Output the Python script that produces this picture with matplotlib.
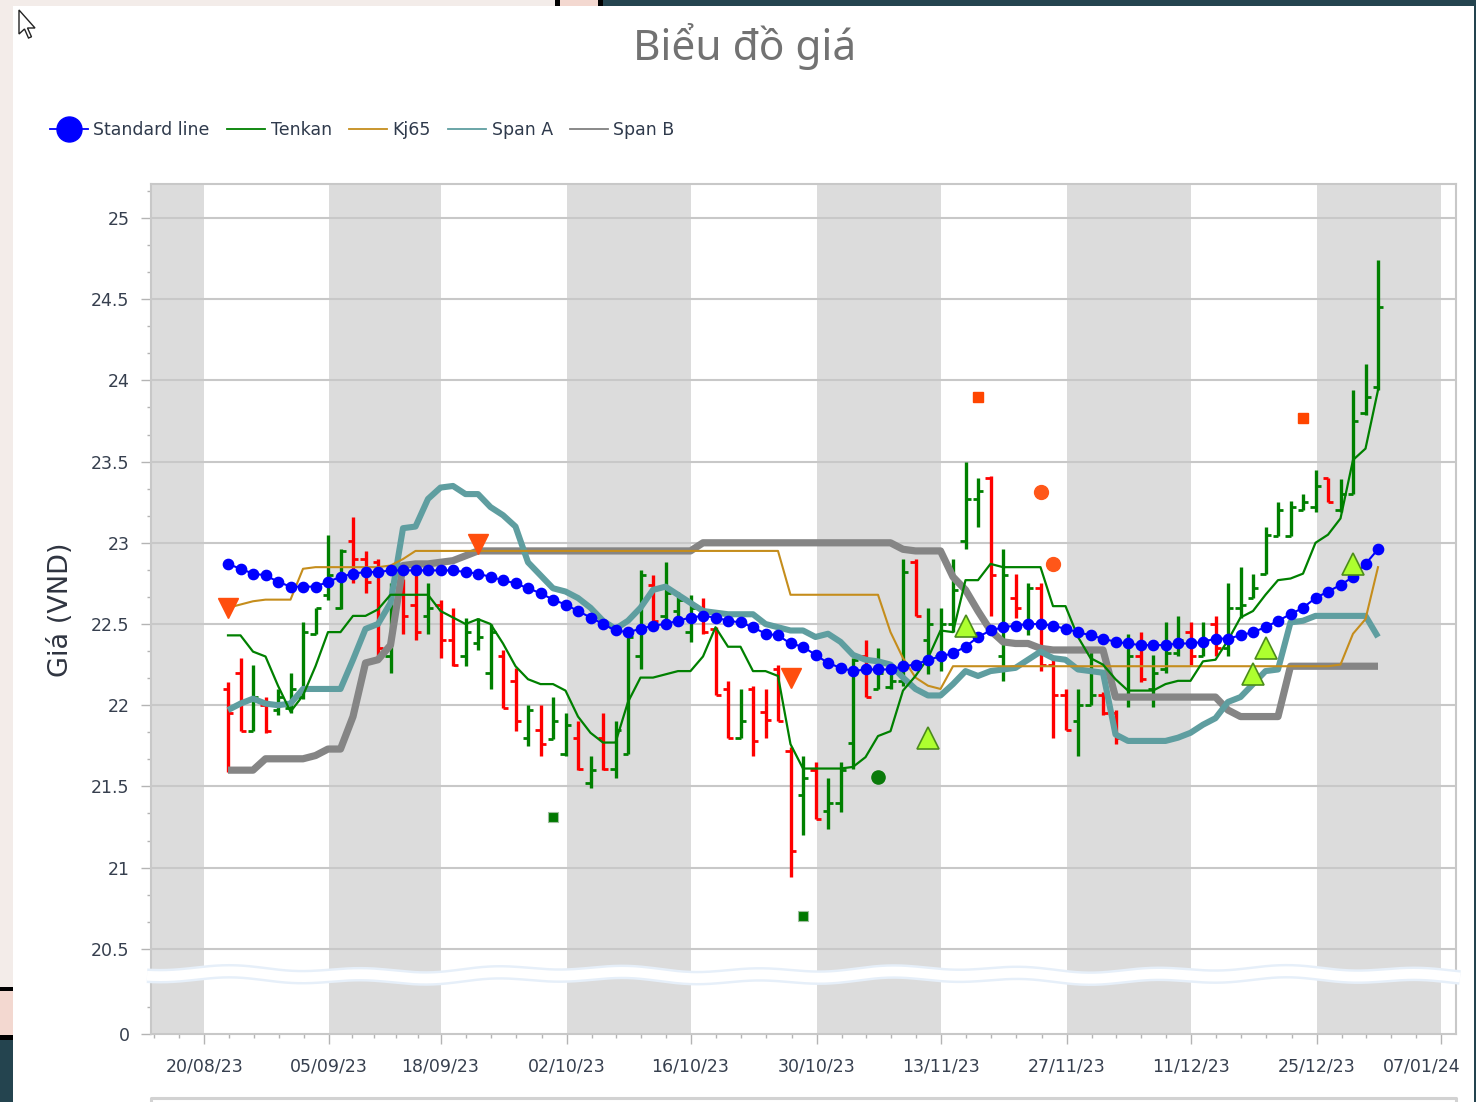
import numpy as np
import matplotlib
matplotlib.use("Agg")
import matplotlib.pyplot as plt
from matplotlib.lines import Line2D
from matplotlib.patches import Rectangle, Polygon
from matplotlib.ticker import FixedLocator, MultipleLocator, FuncFormatter
from matplotlib.transforms import ScaledTranslation

plt.rcParams['font.family'] = ['DejaVu Sans']

# ---- data (x = trading session index) ----
opens = [22.10, 22.20, 21.84, 22.00, 21.97, 21.98, 22.05, 22.44, 22.68, 22.60,
         23.01, 22.90, 22.88, 22.30, 22.70, 22.62, 22.55, 22.62, 22.40, 22.30,
         22.38, 22.20, 22.30, 22.15, 21.80, 21.85, 21.79, 21.70, 21.80, 21.52,
         21.80, 21.61, 21.70, 22.30, 22.74, 22.55, 22.58, 22.45, 22.60, 22.47,
         22.10, 21.80, 22.10, 21.96, 22.22, 21.72, 21.45, 21.60, 21.35, 21.40,
         21.77, 22.30, 22.10, 22.11, 22.15, 22.88, 22.40, 22.30, 22.50, 23.01,
         23.27, 23.40, 22.30, 22.66, 22.50, 22.72, 22.25, 22.06, 21.90, 22.00,
         22.06, 21.95, 22.06, 22.30, 22.10, 22.22, 22.32, 22.45, 22.30, 22.50,
         22.35, 22.60, 22.66, 22.81, 23.04, 23.04, 23.20, 23.22, 23.40, 23.20,
         23.30, 23.80, 23.96]
highs = [22.14, 22.29, 22.25, 22.05, 22.10, 22.20, 22.51, 22.60, 23.05, 22.96,
         23.16, 22.95, 22.90, 22.75, 22.78, 22.83, 22.75, 22.65, 22.60, 22.54,
         22.54, 22.50, 22.34, 22.23, 22.00, 22.00, 22.05, 21.95, 21.90, 21.69,
         21.95, 21.90, 22.44, 22.83, 22.80, 22.88, 22.70, 22.68, 22.66, 22.48,
         22.15, 22.10, 22.12, 22.10, 22.25, 21.74, 21.69, 21.65, 21.55, 21.65,
         22.29, 22.40, 22.35, 22.20, 22.90, 22.90, 22.60, 22.60, 22.90, 23.50,
         23.40, 23.41, 22.96, 22.81, 22.75, 22.75, 22.29, 22.10, 22.10, 22.33,
         22.08, 21.97, 22.44, 22.45, 22.31, 22.51, 22.55, 22.51, 22.51, 22.55,
         22.75, 22.85, 22.81, 23.10, 23.25, 23.26, 23.30, 23.45, 23.40, 23.39,
         23.94, 24.10, 24.74]
lows = [21.59, 21.84, 21.84, 21.83, 21.94, 21.95, 22.04, 22.44, 22.65, 22.59,
        22.75, 22.69, 22.30, 22.20, 22.44, 22.40, 22.44, 22.29, 22.24, 22.24,
        22.34, 22.10, 21.98, 21.84, 21.75, 21.69, 21.79, 21.69, 21.60, 21.49,
        21.60, 21.55, 21.70, 22.22, 22.50, 22.50, 22.50, 22.39, 22.44, 22.06,
        21.80, 21.80, 21.69, 21.80, 21.90, 20.94, 21.20, 21.30, 21.24, 21.34,
        21.61, 22.05, 22.10, 22.10, 22.12, 22.55, 22.19, 22.21, 22.45, 22.96,
        23.10, 22.55, 22.15, 22.54, 22.43, 22.21, 21.80, 21.85, 21.69, 22.00,
        21.94, 21.76, 21.99, 22.14, 21.99, 22.20, 22.30, 22.25, 22.30, 22.30,
        22.30, 22.54, 22.66, 22.81, 23.04, 23.04, 23.20, 23.19, 23.25, 23.19,
        23.30, 23.79, 23.94]
closes = [21.95, 21.84, 22.05, 21.84, 22.05, 22.10, 22.45, 22.60, 22.80, 22.95,
          22.90, 22.76, 22.35, 22.60, 22.55, 22.45, 22.60, 22.40, 22.25, 22.45,
          22.42, 22.45, 21.98, 21.90, 21.97, 21.76, 21.90, 21.88, 21.61, 21.60,
          21.61, 21.85, 22.42, 22.80, 22.52, 22.69, 22.65, 22.60, 22.45, 22.06,
          21.80, 21.90, 21.78, 21.91, 21.90, 21.10, 21.55, 21.30, 21.40, 21.60,
          22.28, 22.05, 22.20, 22.15, 22.82, 22.55, 22.50, 22.50, 22.71, 23.27,
          23.32, 22.80, 22.80, 22.60, 22.72, 22.25, 22.06, 21.85, 22.00, 22.06,
          21.95, 21.80, 22.30, 22.16, 22.20, 22.32, 22.40, 22.30, 22.40, 22.35,
          22.60, 22.62, 22.72, 23.05, 23.20, 23.22, 23.25, 23.35, 23.25, 23.30,
          23.75, 23.90, 24.45]

standard = [22.87, 22.84, 22.81, 22.80, 22.76, 22.73, 22.73, 22.73, 22.76, 22.79,
            22.81, 22.82, 22.82, 22.83, 22.83, 22.83, 22.83, 22.83, 22.83, 22.82,
            22.81, 22.79, 22.77, 22.75, 22.72, 22.69, 22.65, 22.62, 22.58, 22.54,
            22.50, 22.46, 22.45, 22.47, 22.49, 22.50, 22.52, 22.54, 22.55, 22.54,
            22.52, 22.51, 22.48, 22.44, 22.43, 22.38, 22.36, 22.31, 22.26, 22.23,
            22.21, 22.22, 22.22, 22.22, 22.24, 22.25, 22.28, 22.30, 22.32, 22.36,
            22.42, 22.46, 22.48, 22.49, 22.50, 22.50, 22.49, 22.47, 22.45, 22.43,
            22.41, 22.39, 22.38, 22.37, 22.37, 22.37, 22.38, 22.38, 22.39, 22.41,
            22.41, 22.43, 22.45, 22.48, 22.52, 22.56, 22.60, 22.66, 22.70, 22.74,
            22.79, 22.87, 22.96]
tenkan = [22.43, 22.43, 22.33, 22.30, 22.12, 21.96, 22.06, 22.24, 22.45, 22.45,
          22.55, 22.55, 22.59, 22.68, 22.68, 22.68, 22.68, 22.58, 22.54, 22.50,
          22.53, 22.50, 22.38, 22.24, 22.16, 22.13, 22.13, 22.09, 21.93, 21.83,
          21.77, 21.77, 22.02, 22.17, 22.17, 22.19, 22.21, 22.21, 22.30, 22.48,
          22.36, 22.36, 22.21, 22.21, 22.18, 21.76, 21.61, 21.61, 21.61, 21.61,
          21.62, 21.68, 21.81, 21.84, 22.09, 22.18, 22.29, 22.46, 22.45, 22.77,
          22.77, 22.87, 22.85, 22.85, 22.85, 22.85, 22.61, 22.61, 22.42, 22.29,
          22.25, 22.16, 22.09, 22.09, 22.09, 22.13, 22.15, 22.15, 22.27, 22.28,
          22.40, 22.54, 22.58, 22.68, 22.77, 22.78, 22.81, 23.00, 23.05, 23.15,
          23.51, 23.58, 23.94]
kj65 = [22.60, 22.62, 22.64, 22.65, 22.65, 22.65, 22.84, 22.85, 22.85, 22.85,
        22.85, 22.85, 22.85, 22.86, 22.90, 22.95, 22.95, 22.95, 22.95, 22.95,
        22.95, 22.95, 22.95, 22.95, 22.95, 22.95, 22.95, 22.95, 22.95, 22.95,
        22.95, 22.95, 22.95, 22.95, 22.95, 22.95, 22.95, 22.95, 22.95, 22.95,
        22.95, 22.95, 22.95, 22.95, 22.95, 22.68, 22.68, 22.68, 22.68, 22.68,
        22.68, 22.68, 22.68, 22.45, 22.29, 22.17, 22.12, 22.10, 22.24, 22.24,
        22.24, 22.24, 22.24, 22.24, 22.24, 22.24, 22.24, 22.24, 22.24, 22.24,
        22.24, 22.24, 22.24, 22.24, 22.24, 22.24, 22.24, 22.24, 22.24, 22.24,
        22.24, 22.24, 22.24, 22.24, 22.24, 22.24, 22.24, 22.24, 22.24, 22.25,
        22.44, 22.53, 22.85]
span_a = [21.97, 22.01, 22.04, 22.01, 22.00, 22.01, 22.10, 22.10, 22.10, 22.10,
          22.28, 22.47, 22.50, 22.63, 23.09, 23.10, 23.27, 23.34, 23.35, 23.30,
          23.30, 23.22, 23.17, 23.10, 22.88, 22.80, 22.72, 22.70, 22.66, 22.60,
          22.52, 22.47, 22.52, 22.60, 22.71, 22.73, 22.68, 22.63, 22.58, 22.57,
          22.56, 22.56, 22.56, 22.50, 22.48, 22.46, 22.46, 22.42, 22.44, 22.39,
          22.31, 22.28, 22.27, 22.25, 22.17, 22.10, 22.06, 22.06, 22.13, 22.21,
          22.18, 22.21, 22.22, 22.23, 22.28, 22.33, 22.29, 22.28, 22.22, 22.21,
          22.20, 21.82, 21.78, 21.78, 21.78, 21.78, 21.80, 21.83, 21.88, 21.92,
          22.02, 22.05, 22.13, 22.21, 22.22, 22.51, 22.52, 22.55, 22.55, 22.55,
          22.55, 22.55, 22.42]
span_b = [21.60, 21.60, 21.60, 21.67, 21.67, 21.67, 21.67, 21.69, 21.73, 21.73,
          21.93, 22.26, 22.28, 22.37, 22.86, 22.87, 22.87, 22.88, 22.89, 22.92,
          22.95, 22.95, 22.95, 22.95, 22.95, 22.95, 22.95, 22.95, 22.95, 22.95,
          22.95, 22.95, 22.95, 22.95, 22.95, 22.95, 22.95, 22.95, 23.00, 23.00,
          23.00, 23.00, 23.00, 23.00, 23.00, 23.00, 23.00, 23.00, 23.00, 23.00,
          23.00, 23.00, 23.00, 23.00, 22.96, 22.95, 22.95, 22.95, 22.79, 22.71,
          22.58, 22.46, 22.39, 22.38, 22.38, 22.35, 22.34, 22.34, 22.34, 22.34,
          22.34, 22.05, 22.05, 22.05, 22.05, 22.05, 22.05, 22.05, 22.05, 22.05,
          21.97, 21.93, 21.93, 21.93, 21.93, 22.24, 22.24, 22.24, 22.24, 22.24,
          22.24, 22.24, 22.24]

# signal markers (session index, price)
sell_tri_x = [0, 20, 45]
sell_tri_y = [22.60, 22.99, 22.17]
buy_tri_x = [56, 59, 82, 83, 90]
buy_tri_y = [21.80, 22.49, 22.19, 22.35, 22.87]
orange_dot_x = [65, 66]
orange_dot_y = [23.31, 22.87]
green_dot_x = [52]
green_dot_y = [21.56]
orange_sq_x = [60, 86]
orange_sq_y = [23.90, 23.77]
green_sq_x = [26, 46]
green_sq_y = [21.31, 20.70]

tick_pos = [-1.9, 8.1, 17.0, 27.1, 37.0, 47.1, 57.0, 67.1, 77.0, 87.1, 97.0]
tick_labels = ['20/08/23', '05/09/23', '18/09/23', '02/10/23', '16/10/23',
               '30/10/23', '13/11/23', '27/11/23', '11/12/23', '25/12/23',
               '07/01/24']

# ---- layout (pixels) ----
W, H = 1476, 1102
L, R, T, B = 151, 1456, 184, 1034
BRK = 975
XMIN, XMAX = -6.16, 98.24
PX = 162.4  # pixels per price unit

fig = plt.figure(figsize=(W / 100, H / 100), dpi=100)
fig.patch.set_facecolor('white')
ax = fig.add_axes([L / W, 1 - BRK / H, (R - L) / W, (BRK - T) / H])
ax0 = fig.add_axes([L / W, 1 - B / H, (R - L) / W, (B - BRK) / H])

ax.set_ylim(25 - (BRK - 218) / PX, 25 + (218 - T) / PX)
ax0.set_ylim(0, (B - BRK) / PX)

edges = [XMIN] + tick_pos + [XMAX]
grid_c = '#c8c8c8'
text_c = '#363f4e'
for a in (ax, ax0):
    a.set_xlim(XMIN, XMAX)
    for i in range(len(edges) - 1):
        if i % 2 == 0:
            a.axvspan(edges[i], edges[i + 1], color='#dcdcdc', lw=0, zorder=0)
    for s in a.spines.values():
        s.set_color(grid_c)
        s.set_linewidth(1.5)
    a.yaxis.set_minor_locator(MultipleLocator(0.5 / 3))
    a.tick_params(axis='y', which='major', length=7, width=1, color='#b4b4b4',
                  pad=8.5, labelsize=12.5, labelcolor=text_c)
    a.tick_params(axis='y', which='minor', length=3, width=1, color='#b4b4b4')

ax.spines['bottom'].set_visible(False)
ax0.spines['top'].set_visible(False)
ax.yaxis.set_major_locator(MultipleLocator(0.5))
ax.yaxis.set_major_formatter(FuncFormatter(lambda v, p: f'{v:g}'))
ax.grid(axis='y', color=grid_c, lw=1.5)
ax.set_axisbelow(True)
ax.tick_params(axis='x', which='both', bottom=False, labelbottom=False)
ax0.yaxis.set_major_locator(FixedLocator([0]))

minor_x = []
step = tick_pos[1] - tick_pos[0]
minor_x += [tick_pos[0] - step / 5 * k for k in range(1, 3)]
for a0, a1 in zip(tick_pos[:-1], tick_pos[1:]):
    minor_x += [a0 + (a1 - a0) * k / 5 for k in range(1, 5)]
ax0.xaxis.set_major_locator(FixedLocator(tick_pos))
ax0.set_xticklabels(tick_labels)
ax0.xaxis.set_minor_locator(FixedLocator(minor_x))
ax0.tick_params(axis='x', which='major', length=7, width=1, color='#b4b4b4',
                pad=10, labelsize=12.5, labelcolor=text_c)
ax0.tick_params(axis='x', which='minor', length=3, width=1, color='#b4b4b4')
last = ax0.get_xticklabels()[-1]
last.set_transform(last.get_transform() +
                   ScaledTranslation(-0.19, 0, fig.dpi_scale_trans))

# ---- OHLC bars ----
x = np.arange(len(opens))
o, h, l, c = map(np.array, (opens, highs, lows, closes))
cols = np.where(c >= o, '#008000', '#ff0000')
ax.vlines(x, l, h, colors=cols, lw=2.4, zorder=2)
ax.hlines(o, x - 0.42, x, colors=cols, lw=2.0, zorder=2)
ax.hlines(c, x, x + 0.42, colors=cols, lw=2.0, zorder=2)

# ---- indicator lines ----
ax.plot(x, span_b, color='#858585', lw=5.2, zorder=3, solid_capstyle='butt')
ax.plot(x, span_a, color='#5f9ea0', lw=4.4, zorder=4, solid_capstyle='butt')
ax.plot(x, kj65, color='#c58d1c', lw=1.5, zorder=5)
ax.plot(x, tenkan, color='#008000', lw=1.6, zorder=6)
ax.plot(x, standard, color='#0000ff', lw=1.5, marker='o', ms=7.4, zorder=7)

# ---- signal markers ----
ax.plot(sell_tri_x, sell_tri_y, 'v', color='#ff4e0d', ms=14, zorder=8)
ax.plot(buy_tri_x, buy_tri_y, '^', mfc='#adff2f', mec='#4c8c1c', mew=1.2,
        ms=16, zorder=8)
ax.plot(orange_dot_x, orange_dot_y, 'o', color='#ff5719', ms=10, zorder=8)
ax.plot(green_dot_x, green_dot_y, 'o', color='#0a7a0a', ms=9.5, zorder=8)
ax.plot(orange_sq_x, orange_sq_y, 's', color='#ff4500', ms=6.5, zorder=8)
ax.plot(green_sq_x, green_sq_y, 's', mfc='#007800', mec='#9fbf9f', mew=0.8,
        ms=7, zorder=8)

# ---- texts ----
fig.text(745 / W, 1 - 46 / H, 'Biểu đồ giá', ha='center', va='center',
         fontsize=30.5, color='#727272', family=['Noto Sans', 'DejaVu Sans'])
fig.text(61 / W, 1 - 610 / H, 'Giá (VND)', rotation=90, ha='center',
         va='center', fontsize=19.5, color='#2f3440')

handles = [
    Line2D([], [], color='#0000ff', lw=1.3, marker='o', ms=18),
    Line2D([], [], color='#008000', lw=1.3),
    Line2D([], [], color='#c58d1c', lw=1.3),
    Line2D([], [], color='#5f9ea0', lw=1.3),
    Line2D([], [], color='#808080', lw=1.3),
]
labels = ['Standard line', 'Tenkan', 'Kj65', 'Span A', 'Span B']
leg = fig.legend(handles, labels, loc='center left',
                 bbox_to_anchor=(50 / W, 1 - 130 / H), ncol=5, frameon=False,
                 fontsize=12.5, handlelength=2.2, handletextpad=0.3,
                 columnspacing=1.0, borderpad=0, borderaxespad=0)
for t in leg.get_texts():
    t.set_color('#2f3a4c')

# ---- screenshot decorations, drawn in pixel coordinates ----
deco = fig.add_axes([0, 0, 1, 1])
deco.set_xlim(0, W)
deco.set_ylim(H, 0)
deco.axis('off')
deco.patch.set_alpha(0)

dark = '#24444f'
pink = '#f3d8d0'
pale = '#f3ece9'
for (rx, ry, rw, rh, rc) in [
        (0, 0, 13, 987, pale), (0, 987, 13, 4, 'black'), (0, 991, 13, 44, pink),
        (0, 1035, 13, 5, 'black'), (0, 1040, 13, 62, dark),
        (13, 0, 542, 6, pale), (555, 0, 5, 6, 'black'), (560, 0, 38, 6, pink),
        (598, 0, 5, 6, 'black'), (603, 0, 873, 6, dark),
        (1474, 0, 2, H, dark)]:
    deco.add_patch(Rectangle((rx, ry), rw, rh, color=rc, lw=0))

# axis break (wavy band)
wx = np.linspace(L - 4, R + 4, 400)
wy = BRK + 2.2 * np.sin(wx / 21.0) + 1.6 * np.sin(wx / 57.0 + 1.0)
deco.plot(wx, wy, color='#e6eff9', lw=10.5, solid_capstyle='butt')
deco.plot(wx, wy, color='white', lw=7.0, solid_capstyle='butt')

# lower panel border
deco.plot([L, L, R, R], [H + 5, 1098, 1098, H + 5], color='#d2d2d2', lw=2.2)

# mouse cursor
deco.add_patch(Polygon([(19, 10), (19, 34), (24.5, 29), (28.5, 38), (31.5, 36.8),
                        (27.5, 28), (35, 28)], closed=True, fc='white',
                       ec='#222222', lw=1.0))

fig.savefig('out.png', dpi=100)
